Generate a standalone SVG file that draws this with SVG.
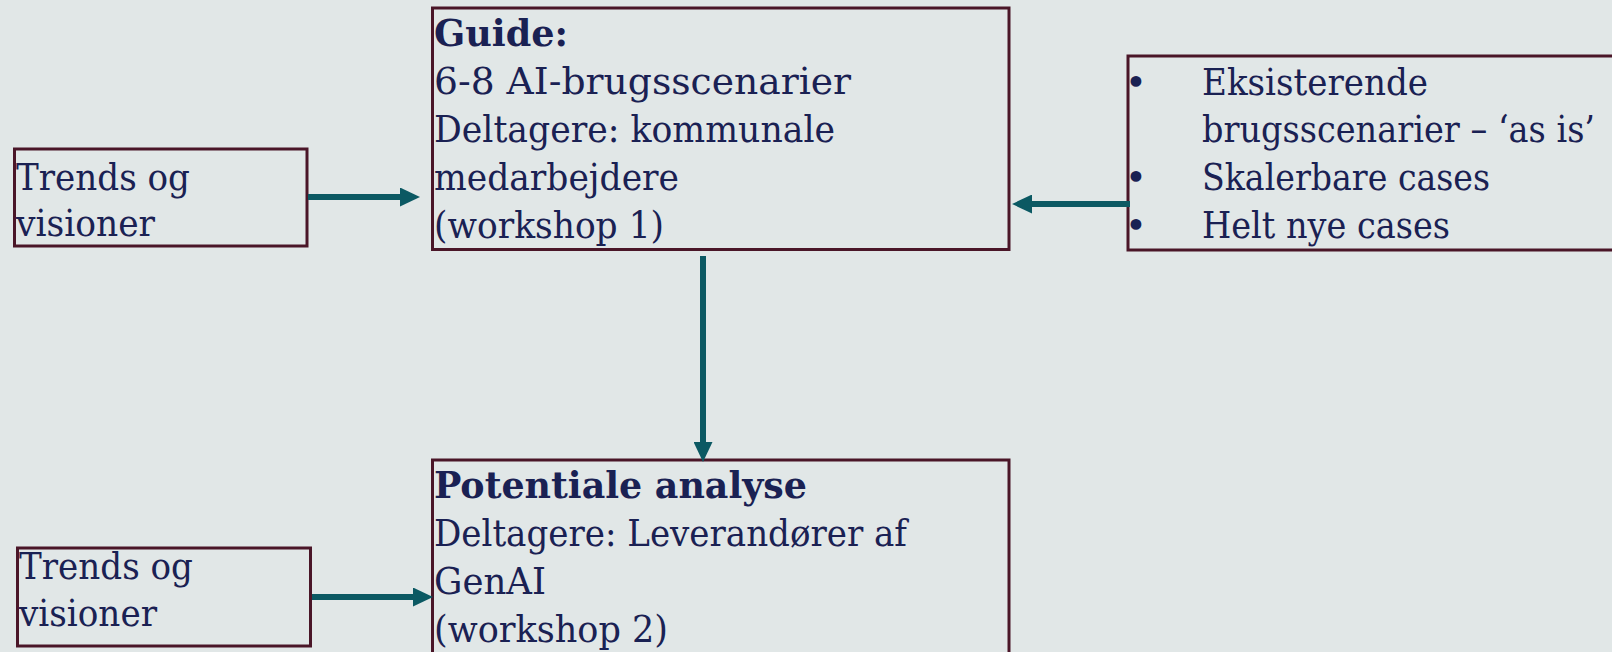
<svg xmlns="http://www.w3.org/2000/svg" width="1612" height="652" viewBox="0 0 1612 652">
<style>
.box{fill:#e1e7e7;stroke:#4a1628;stroke-width:3}
.t{font-family:"DejaVu Serif","Liberation Serif",serif;font-size:37px;fill:#1a2153}
.b{font-weight:bold}
.conn{stroke:#0b5963;stroke-width:6;fill:none}
</style>
<defs>
<marker id="ah" viewBox="0 0 20 19" markerWidth="20" markerHeight="19" refX="1" refY="9.5" orient="auto" markerUnits="userSpaceOnUse">
<path d="M0,0 L20,9.5 L0,19 z" fill="#0b5963"/>
</marker>
</defs>
<rect width="1612" height="652" fill="#e1e7e7"/>
<g id="trends1">
<rect class="box" x="14.5" y="149" width="292.5" height="97"/>
<text class="t" x="16" y="189.5" textLength="174" lengthAdjust="spacingAndGlyphs">Trends og</text>
<text class="t" x="16" y="235.5" textLength="139" lengthAdjust="spacingAndGlyphs">visioner</text>
</g>
<g id="guide">
<rect class="box" x="432.5" y="8" width="576.5" height="241.5"/>
<text class="t b" x="434" y="45.5" textLength="134" lengthAdjust="spacingAndGlyphs">Guide:</text>
<text class="t" x="434" y="93.5" textLength="417" lengthAdjust="spacingAndGlyphs">6-8 AI-brugsscenarier</text>
<text class="t" x="434" y="141.5" textLength="401" lengthAdjust="spacingAndGlyphs">Deltagere: kommunale</text>
<text class="t" x="434" y="189.5" textLength="245" lengthAdjust="spacingAndGlyphs">medarbejdere</text>
<text class="t" x="434" y="237.5" textLength="230" lengthAdjust="spacingAndGlyphs">(workshop 1)</text>
</g>
<g id="cases">
<rect class="box" x="1128" y="56" width="485.5" height="194"/>
<text class="t" x="1125" y="95">•</text>
<text class="t" x="1202" y="95" textLength="226" lengthAdjust="spacingAndGlyphs">Eksisterende</text>
<text class="t" x="1202" y="142" textLength="393" lengthAdjust="spacingAndGlyphs">brugsscenarier – ‘as is’</text>
<text class="t" x="1125" y="190">•</text>
<text class="t" x="1202" y="190" textLength="288" lengthAdjust="spacingAndGlyphs">Skalerbare cases</text>
<text class="t" x="1125" y="238">•</text>
<text class="t" x="1202" y="238" textLength="248" lengthAdjust="spacingAndGlyphs">Helt nye cases</text>
</g>
<g id="potentiale">
<rect class="box" x="432.5" y="460" width="576.5" height="193.5"/>
<text class="t b" x="434" y="498" textLength="373" lengthAdjust="spacingAndGlyphs">Potentiale analyse</text>
<text class="t" x="434" y="546" textLength="473" lengthAdjust="spacingAndGlyphs">Deltagere: Leverandører af</text>
<text class="t" x="434" y="594" textLength="112" lengthAdjust="spacingAndGlyphs">GenAI</text>
<text class="t" x="434" y="642" textLength="234" lengthAdjust="spacingAndGlyphs">(workshop 2)</text>
</g>
<g id="trends2">
<rect class="box" x="17.5" y="548" width="293" height="98"/>
<text class="t" x="19" y="579" textLength="174" lengthAdjust="spacingAndGlyphs">Trends og</text>
<text class="t" x="19" y="626" textLength="138" lengthAdjust="spacingAndGlyphs">visioner</text>
</g>
<g id="connectors">
<line class="conn" x1="308" y1="197" x2="401" y2="197" marker-end="url(#ah)"/>
<line class="conn" x1="1130" y1="204" x2="1031" y2="204" marker-end="url(#ah)"/>
<line class="conn" x1="703" y1="256" x2="703" y2="443" marker-end="url(#ah)"/>
<line class="conn" x1="312" y1="597" x2="414" y2="597" marker-end="url(#ah)"/>
</g>
</svg>
